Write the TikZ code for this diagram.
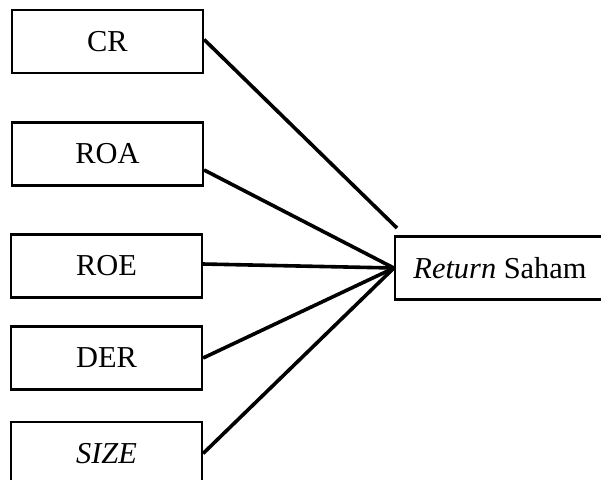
\documentclass[tikz,border=0pt]{standalone}
\usepackage{fontspec}
\setmainfont{Liberation Serif}
\usetikzlibrary{positioning}

\begin{document}
\begin{tikzpicture}[x=0.5pt, y=-0.5pt]

\tikzset{
  varbox/.style={
    rectangle, draw, line width=1.1pt,
    minimum width=95.5pt, minimum height=31.5pt,
    inner sep=0pt, font=\fontsize{15.2}{18}\selectfont
  },
  link/.style={line width=1.8pt}
}

% marco de la imagen
\clip (0,0) rectangle (601,479);

% ==========================
% Variables independientes
% ==========================
\node[varbox] (cr)   at (107.5,41.5) {CR};
\node[varbox] (roa)  at (107.5,154)  {ROA};
\node[varbox] (roe)  at (106.5,266)  {ROE};
\node[varbox] (der)  at (106.5,358)  {DER};
\node[varbox] (size) at (106.5,453.5) {\textit{SIZE}};

% ==========================
% Variable dependiente
% ==========================
\node[varbox, minimum width=105pt] (ret) at (500,268) {\textit{Return} Saham};

% extremo libre de la línea de CR
\coordinate (crend) at (397,228);

% ==========================
% Conexiones
% ==========================
\draw[link] ([yshift=1pt]cr.east) -- (crend);
\draw[link] ([yshift=-8pt]roa.east) -- (ret.west);
\draw[link] ([yshift=1pt]roe.east) -- (ret.west);
\draw[link] (der.east) -- (ret.west);
\draw[link] (size.east) -- (ret.west);

\end{tikzpicture}
\end{document}
